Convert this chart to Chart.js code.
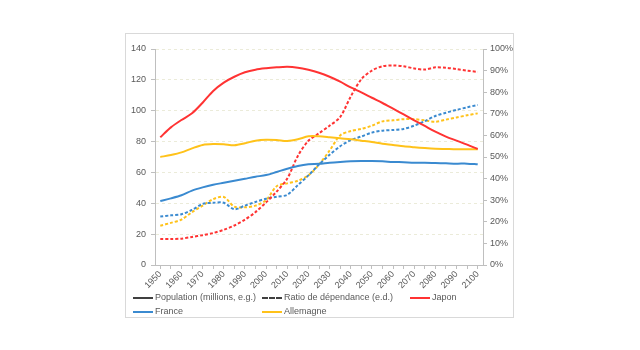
<!DOCTYPE html>
<html>
<head>
<meta charset="utf-8">
<script src="https://cdn.jsdelivr.net/npm/chart.js"></script>
<style>
body{margin:0;background:#fff;}
#wrap{position:relative;width:640px;height:350px;font-family:'Liberation Sans Narrow','Liberation Sans',Arial,sans-serif;}
#cadre{position:absolute;left:125px;top:33px;width:387px;height:283px;border:1px solid #d9d9d9;}
#graf{position:absolute;left:0;top:0;}
.leg{position:absolute;font-size:9px;color:#595959;white-space:nowrap;line-height:10px;}
.leg span{display:inline-block;width:20px;height:0;vertical-align:middle;margin-right:2px;border-top-width:2px;}
</style>
</head>
<body>
<div id="wrap">
  <div id="cadre"></div>
  <canvas id="graf" width="640" height="350"></canvas>
  <div class="leg" style="left:133px;top:292px"><span style="border-top-style:solid;border-top-color:#404040"></span>Population (millions, e.g.)</div>
  <div class="leg" style="left:262px;top:292px"><span style="border-top-style:dashed;border-top-color:#404040"></span>Ratio de dépendance (e.d.)</div>
  <div class="leg" style="left:410px;top:292px"><span style="border-top-style:solid;border-top-color:#ff3333"></span>Japon</div>
  <div class="leg" style="left:133px;top:306px"><span style="border-top-style:solid;border-top-color:#3a8ad0"></span>France</div>
  <div class="leg" style="left:262px;top:306px"><span style="border-top-style:solid;border-top-color:#ffc21a"></span>Allemagne</div>
</div>
<script>
var annees = [1950,1955,1960,1965,1970,1975,1980,1985,1990,1995,2000,2005,2010,2015,2020,2025,
              2030,2035,2040,2045,2050,2055,2060,2065,2070,2075,2080,2085,2090,2095,2100];

// population, millions
var popJapon = [82.8,89.2,94.0,98.3,105.2,112.8,118.2,122.0,124.9,126.6,127.5,128.1,128.5,127.9,126.5,
                124.6,122.0,118.8,115.1,111.9,108.4,105.0,101.3,97.6,93.8,90.1,86.4,83.2,80.6,78.0,75.2];
var popFrance = [41.5,43.2,45.2,48.2,50.3,52.0,53.3,54.6,55.9,57.2,58.3,60.3,62.4,64.2,65.3,
                 65.6,66.3,66.8,67.2,67.4,67.4,67.2,66.8,66.6,66.3,66.3,66.1,65.9,65.7,65.7,65.3];
var popAllemagne = [70.0,71.3,73.0,75.6,77.8,78.4,78.2,77.6,78.9,80.6,81.2,81.0,80.4,81.5,83.4,
                    83.4,82.8,82.1,81.5,80.6,79.7,78.6,77.8,76.9,76.3,75.8,75.4,75.2,75.0,75.0,75.0];

// ratio de dependance, %
var ratioJapon = [12.0,12.0,12.2,13.0,13.8,14.8,16.3,18.3,21.0,24.5,29.0,34.0,40.0,50.5,57.5,
                  61.0,64.5,68.5,78.0,86.0,90.0,92.0,92.4,92.0,91.0,90.5,91.5,91.3,90.7,90.0,89.4];
var ratioFrance = [22.4,23.0,23.5,25.5,28.3,28.8,28.8,25.8,27.5,29.2,30.7,31.6,32.5,37.0,41.5,
                   46.5,51.0,55.0,57.8,59.5,61.3,62.2,62.5,63.0,64.5,66.6,69.0,70.5,71.8,73.0,74.1];
var ratioAllemagne = [18.2,19.5,21.0,24.5,27.5,30.5,31.5,27.0,26.7,27.5,30.0,36.5,37.8,39.0,41.5,
                      46.5,53.0,60.0,62.0,63.0,64.5,66.5,67.0,67.5,67.5,67.0,66.3,67.3,68.3,69.3,70.2];

var rouge = "#ff3333", bleu = "#3a8ad0", jaune = "#ffc21a";
var police = "'Liberation Sans Narrow','Liberation Sans',Arial,sans-serif";
var gris = "#bfbfbf";

function ligne(label, data, couleur, axe, pointille){
    return {
        label: label,
        data: data,
        borderColor: couleur,
        backgroundColor: couleur,
        borderWidth: 2,
        borderDash: pointille ? [3,2] : [],
        pointRadius: 0,
        tension: 0.3,
        fill: false,
        yAxisID: axe
    };
}

var ctx = document.getElementById("graf");
var graf = new Chart(ctx, {
    type: "line",
    data: {
        labels: annees,
        datasets: [
            ligne("Japon", popJapon, rouge, "y", false),
            ligne("France", popFrance, bleu, "y", false),
            ligne("Allemagne", popAllemagne, jaune, "y", false),
            ligne("Japon e.d.", ratioJapon, rouge, "y1", true),
            ligne("France e.d.", ratioFrance, bleu, "y1", true),
            ligne("Allemagne e.d.", ratioAllemagne, jaune, "y1", true)
        ]
    },
    options: {
        responsive: false,
        animation: false,
        layout: { padding: { left: 125, right: 127, top: 49, bottom: 55 } },
        plugins: { legend: { display: false }, tooltip: { enabled: false } },
        scales: {
            x: {
                offset: true,
                afterFit: function(s){ s.height = 30; },
                grid: { drawOnChartArea: false, tickLength: 4, color: gris },
                border: { color: gris },
                ticks: {
                    autoSkip: false, minRotation: 45, maxRotation: 45, padding: 0,
                    color: "#595959", font: { family: police, size: 9 },
                    callback: function(v, i){ return i % 2 === 0 ? annees[i] : ""; }
                }
            },
            y: {
                position: "left",
                min: 0, max: 140,
                afterFit: function(s){ s.width = 30; },
                grid: { color: "#ebebd9", tickLength: 4, tickColor: gris, tickBorderDash: [] },
                border: { color: gris, dash: [3,3] },
                ticks: { stepSize: 20, padding: 5, color: "#595959", font: { family: police, size: 9 } }
            },
            y1: {
                position: "right",
                min: 0, max: 100,
                afterFit: function(s){ s.width = 30; },
                grid: { drawOnChartArea: false, tickLength: 4, color: gris },
                border: { color: gris },
                ticks: {
                    stepSize: 10, padding: 3, color: "#595959", font: { family: police, size: 9 },
                    callback: function(v){ return v + "%"; }
                }
            }
        }
    }
});
</script>
</body>
</html>
